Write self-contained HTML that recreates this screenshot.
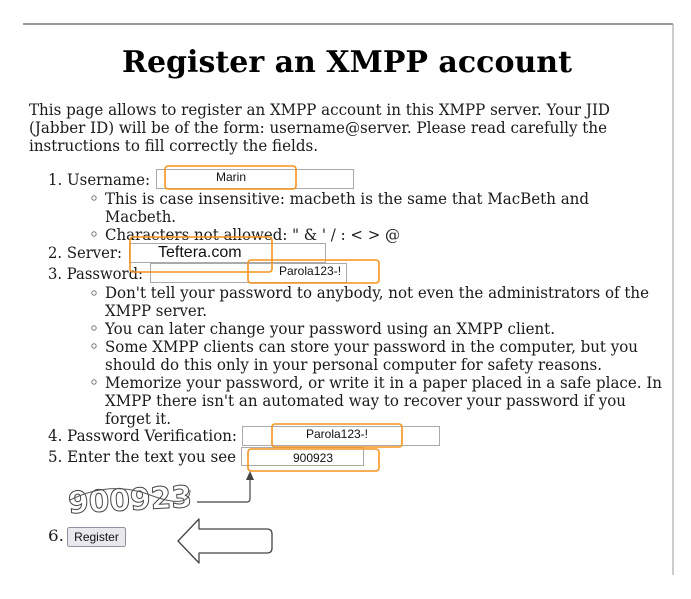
<!DOCTYPE html>
<html><head><meta charset="utf-8"><style>
html,body{margin:0;padding:0;background:#fff;width:691px;height:599px;overflow:hidden}
svg{display:block}
.s{font-family:"DejaVu Serif","Liberation Serif",serif;font-size:16px;fill:#1a1a1a}
.f{font-family:"Liberation Sans",sans-serif;font-size:12px;fill:#111}
</style></head><body>
<svg width="691" height="599" viewBox="0 0 691 599" xmlns="http://www.w3.org/2000/svg">
<line x1="23" y1="24" x2="673" y2="24" stroke="#777" stroke-width="1.5"/>
<line x1="673" y1="24" x2="673" y2="575" stroke="#999" stroke-width="1"/>
<text x="122" y="72" font-family="DejaVu Serif,Liberation Serif,serif" font-weight="bold" font-size="30" fill="#000" textLength="450" lengthAdjust="spacingAndGlyphs">Register an XMPP account</text>
<g class="s" lengthAdjust="spacingAndGlyphs">
<text x="29" y="115" textLength="581" lengthAdjust="spacingAndGlyphs">This page allows to register an XMPP account in this XMPP server. Your JID</text>
<text x="29" y="133" textLength="578" lengthAdjust="spacingAndGlyphs">(Jabber ID) will be of the form: username@server. Please read carefully the</text>
<text x="29" y="151" textLength="289" lengthAdjust="spacingAndGlyphs">instructions to fill correctly the fields.</text>
<text x="48" y="185" textLength="102" lengthAdjust="spacingAndGlyphs">1. Username:</text>
<text x="105" y="204" textLength="484" lengthAdjust="spacingAndGlyphs">This is case insensitive: macbeth is the same that MacBeth and</text>
<text x="105" y="222" textLength="71" lengthAdjust="spacingAndGlyphs">Macbeth.</text>
<text x="105" y="240" textLength="295" lengthAdjust="spacingAndGlyphs">Characters not allowed: " &amp; ' / : &lt; &gt; @</text>
<text x="48" y="258" textLength="74" lengthAdjust="spacingAndGlyphs">2. Server:</text>
<text x="48" y="279" textLength="95" lengthAdjust="spacingAndGlyphs">3. Password:</text>
<text x="105" y="298" textLength="544" lengthAdjust="spacingAndGlyphs">Don't tell your password to anybody, not even the administrators of the</text>
<text x="105" y="316" textLength="102" lengthAdjust="spacingAndGlyphs">XMPP server.</text>
<text x="105" y="334" textLength="450" lengthAdjust="spacingAndGlyphs">You can later change your password using an XMPP client.</text>
<text x="105" y="352" textLength="533" lengthAdjust="spacingAndGlyphs">Some XMPP clients can store your password in the computer, but you</text>
<text x="105" y="370" textLength="497" lengthAdjust="spacingAndGlyphs">should do this only in your personal computer for safety reasons.</text>
<text x="105" y="388" textLength="557" lengthAdjust="spacingAndGlyphs">Memorize your password, or write it in a paper placed in a safe place. In</text>
<text x="105" y="406" textLength="521" lengthAdjust="spacingAndGlyphs">XMPP there isn't an automated way to recover your password if you</text>
<text x="105" y="424" textLength="66" lengthAdjust="spacingAndGlyphs">forget it.</text>
<text x="48" y="441" textLength="189" lengthAdjust="spacingAndGlyphs">4. Password Verification:</text>
<text x="48" y="462" textLength="188" lengthAdjust="spacingAndGlyphs">5. Enter the text you see</text>
<text x="48" y="541" textLength="16" lengthAdjust="spacingAndGlyphs">6.</text>
</g>
<g fill="none" stroke="#777" stroke-width="1">
<circle cx="94" cy="198" r="2.2"/><circle cx="94" cy="234" r="2.2"/>
<circle cx="94" cy="293" r="2.2"/><circle cx="94" cy="328" r="2.2"/>
<circle cx="94" cy="346" r="2.2"/><circle cx="94" cy="382" r="2.2"/>
</g>
<g fill="#fff" stroke="#aaa" stroke-width="1">
<rect x="156.5" y="169.5" width="197" height="19"/>
<rect x="129.5" y="243.5" width="196" height="19"/>
<rect x="150.5" y="263.5" width="196" height="19"/>
<rect x="242.5" y="426.5" width="197" height="19"/>
<rect x="241.5" y="447.5" width="122" height="18"/>
</g>
<text class="f" x="231" y="181" text-anchor="middle">Marin</text>
<text x="158" y="257" font-family="Liberation Sans,sans-serif" font-size="16" fill="#111">Teftera.com</text>
<text class="f" x="279" y="275">Parola123-!</text>
<text class="f" x="337" y="438" text-anchor="middle">Parola123-!</text>
<text class="f" x="313" y="462" text-anchor="middle">900923</text>
<g fill="none" stroke="#f7941d" stroke-width="1.6">
<rect x="165" y="166" width="131" height="23" rx="3"/>
<rect x="130" y="237" width="142" height="35" rx="3"/>
<rect x="248" y="260" width="131" height="23" rx="3"/>
<rect x="272" y="424" width="130" height="23" rx="3"/>
<rect x="248" y="449" width="131" height="22" rx="3"/>
</g>
<text x="68" y="510" font-family="DejaVu Sans,sans-serif" font-size="30" font-weight="bold" fill="#fff" stroke="#444" stroke-width="1" textLength="124" lengthAdjust="spacingAndGlyphs" transform="rotate(-3 130 500)">900923</text>
<path d="M70 500 Q110 480 150 495 T190 490" fill="none" stroke="#555" stroke-width="1"/>
<path d="M197 502 H247 Q250 502 250 499 V478" fill="none" stroke="#444" stroke-width="1.2"/>
<path d="M246 480 L250 471 L254 480 Z" fill="#444"/>
<rect x="67.5" y="527.5" width="58" height="19" rx="2" fill="#e9e9ed" stroke="#8f8f9d"/>
<text class="f" x="96.5" y="541" text-anchor="middle">Register</text>
<path d="M178 541 L199 519 V529 H267 Q272 529 272 534 V548 Q272 553 267 553 H199 V563 Z" fill="#fff" stroke="#444" stroke-width="1.3" stroke-linejoin="round"/>
</svg>
</body></html>
